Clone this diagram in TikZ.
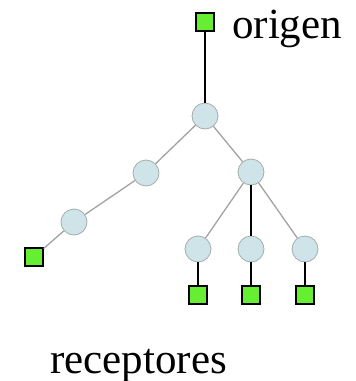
\documentclass[tikz,border=0pt]{standalone}
\usepackage{fontspec}
\setmainfont{Liberation Serif}
\definecolor{hubFill}{HTML}{CFE4E8}
\definecolor{hubLine}{HTML}{A4ACAC}
\definecolor{hostFill}{HTML}{66EE33}
\definecolor{linkGray}{HTML}{A2A2A2}
\newcommand{\labelFont}[0]{\fontsize{43}{43}\selectfont}

\begin{document}
\begin{tikzpicture}[x=1pt, y=-1pt]
  \tikzset{router/.style={circle, draw=hubLine, fill=hubFill, minimum size=26pt, inner sep=0pt, line width=0.8pt}}
  \tikzset{host/.style={rectangle, draw=black, fill=hostFill, minimum size=18pt, inner sep=0pt, line width=1.2pt}}
  \tikzset{grayLink/.style={linkGray, line width=1.3pt}}
  \tikzset{blackLink/.style={black, line width=1.8pt}}
  \useasboundingbox (0,0) rectangle (356,381);
  \node[host] (S-0) at (205,22) {};
  \node[anchor=base west, inner sep=0pt] (origen) at (232,38) {\labelFont origen};
  \node[router] (R-1) at (205,116) {};
  \node[router] (R-1-1) at (146,173) {};
  \node[router] (R-1-2) at (251,172) {};
  \node[router] (R-1-1-1) at (74,222) {};
  \node[host] (S-1) at (34,257) {};
  \node[router] (R-1-2-1) at (198,249) {};
  \node[router] (R-1-2-2) at (251,249) {};
  \node[router] (R-1-2-3) at (305,249) {};
  \node[host] (S-2) at (198,295) {};
  \node[host] (S-3) at (251,295) {};
  \node[host] (S-4) at (305,295) {};
  \node[anchor=base west, inner sep=0pt] (receptores) at (50,373) {\labelFont receptores};
  \draw[blackLink] (S-0) -- (R-1);
  \draw[grayLink] (R-1) -- (R-1-1);
  \draw[grayLink] (R-1) -- (R-1-2);
  \draw[grayLink] (R-1-1) -- (R-1-1-1);
  \draw[grayLink] (R-1-1-1) -- (S-1);
  \draw[grayLink] (R-1-2) -- (R-1-2-1);
  \draw[blackLink] (R-1-2) -- (R-1-2-2);
  \draw[grayLink] (R-1-2) -- (R-1-2-3);
  \draw[blackLink] (R-1-2-1) -- (S-2);
  \draw[blackLink] (R-1-2-2) -- (S-3);
  \draw[blackLink] (R-1-2-3) -- (S-4);
\end{tikzpicture}
\end{document}
